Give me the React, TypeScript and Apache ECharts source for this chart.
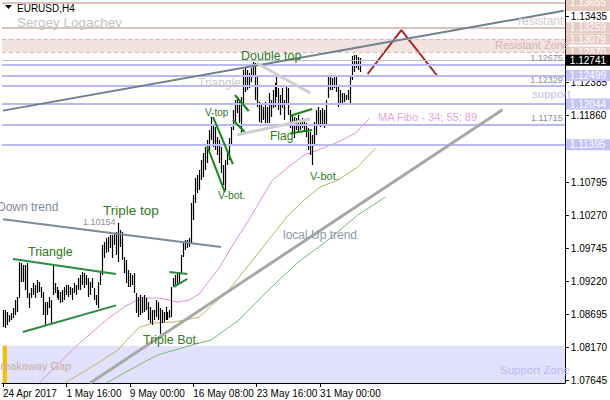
import React, { useEffect, useRef } from "react";
import * as echarts from "echarts";

// ---- price bars (H4, EURUSD) : highs and lows per bar index ----
const barHigh = [
  1.08766, 1.08766, 1.08734, 1.08686, 1.08718, 1.08798, 1.08925, 1.08973, 1.0953, 1.09514,
  1.09483, 1.09483, 1.09514, 1.09037, 1.09117, 1.09196, 1.09164, 1.09245, 1.09212, 1.09132,
  1.09053, 1.08893, 1.08893, 1.08973, 1.08925, 1.09483, 1.09196, 1.09132, 1.09085, 1.09053,
  1.09085, 1.09132, 1.09164, 1.09164, 1.09132, 1.09117, 1.09196, 1.09164, 1.09275, 1.09323,
  1.09371, 1.09355, 1.09323, 1.09275, 1.09212, 1.09275, 1.09117, 1.09005, 1.09212, 1.09371,
  1.09801, 1.09848, 1.09912, 1.09928, 1.0996, 1.0996, 1.09992, 1.10007, 1.10154, 1.10039,
  1.10007, 1.0961, 1.09562, 1.09403, 1.09355, 1.09323, 1.09355, 1.09037, 1.08973, 1.09005,
  1.08973, 1.09005, 1.08959, 1.08893, 1.08814, 1.08766, 1.08766, 1.08925, 1.08893, 1.08798,
  1.08766, 1.08734, 1.08814, 1.08734, 1.08766, 1.09132, 1.09275, 1.09323, 1.09355, 1.09371,
  1.09641, 1.09848, 1.0988, 1.0988, 1.09912, 1.10469, 1.10597, 1.10867, 1.10915, 1.10995,
  1.11154, 1.11265, 1.11361, 1.11473, 1.11631, 1.11838, 1.11711, 1.11679, 1.1152, 1.11473,
  1.11361, 1.11074, 1.11154, 1.11313, 1.11504, 1.11679, 1.1195, 1.12109, 1.12157, 1.12109,
  1.12157, 1.12587, 1.12618, 1.12587, 1.12539, 1.12618, 1.12714, 1.12698, 1.12475, 1.12077,
  1.12029, 1.11998, 1.12077, 1.11998, 1.1222, 1.12109, 1.12268, 1.1238, 1.12475, 1.123,
  1.12189, 1.123, 1.12109, 1.12316, 1.123, 1.1195, 1.1187, 1.11838, 1.11822, 1.1187,
  1.11791, 1.11822, 1.11791, 1.11743, 1.11663, 1.116, 1.11552, 1.11759, 1.1195, 1.11998,
  1.1195, 1.11982, 1.1195, 1.12109, 1.12475, 1.12507, 1.12459, 1.12475, 1.12507, 1.12348,
  1.12268, 1.1222, 1.1222, 1.12189, 1.12268, 1.12507, 1.1281, 1.12825, 1.12825, 1.12794,
  1.12778,
];
const barLow = [
  1.08495, 1.0848, 1.08527, 1.08575, 1.08607, 1.08639, 1.08686, 1.08734, 1.08959, 1.09212,
  1.09212, 1.09085, 1.08959, 1.08798, 1.08959, 1.09005, 1.08959, 1.09037, 1.09053, 1.08959,
  1.08686, 1.08527, 1.08686, 1.08798, 1.08559, 1.09005, 1.09037, 1.08959, 1.08925, 1.08877,
  1.08893, 1.08925, 1.09005, 1.08973, 1.09005, 1.08925, 1.09037, 1.09005, 1.09085, 1.09085,
  1.09164, 1.09117, 1.09164, 1.08973, 1.09005, 1.09117, 1.08925, 1.08845, 1.08798, 1.09164,
  1.09323, 1.09594, 1.09673, 1.09689, 1.09753, 1.09594, 1.09801, 1.09641, 1.0953, 1.09769,
  1.09562, 1.09355, 1.09196, 1.09132, 1.09132, 1.09164, 1.09037, 1.08718, 1.08654, 1.08686,
  1.08718, 1.08734, 1.08766, 1.08607, 1.08559, 1.08527, 1.08607, 1.08654, 1.08607, 1.08384,
  1.08559, 1.08575, 1.08607, 1.08607, 1.08639, 1.08654, 1.09132, 1.09132, 1.09164, 1.09196,
  1.09355, 1.0961, 1.09721, 1.09753, 1.09769, 1.09833, 1.10199, 1.10469, 1.10629, 1.10676,
  1.10835, 1.10883, 1.10995, 1.11106, 1.11265, 1.11473, 1.11361, 1.11313, 1.11233, 1.11106,
  1.10947, 1.10756, 1.10676, 1.11074, 1.11154, 1.11393, 1.11631, 1.11759, 1.11902, 1.11743,
  1.11584, 1.12061, 1.12236, 1.12268, 1.123, 1.12396, 1.12475, 1.12109, 1.11998, 1.11759,
  1.11743, 1.11791, 1.11743, 1.11743, 1.11743, 1.11838, 1.11982, 1.11998, 1.12157, 1.1195,
  1.1187, 1.11982, 1.11791, 1.12029, 1.1187, 1.11663, 1.11584, 1.11504, 1.11631, 1.11584,
  1.11631, 1.11663, 1.116, 1.1152, 1.11313, 1.11233, 1.11074, 1.11393, 1.11552, 1.11711,
  1.11679, 1.11711, 1.11663, 1.11711, 1.12141, 1.12268, 1.12268, 1.123, 1.12236, 1.11998,
  1.12029, 1.12061, 1.12077, 1.12109, 1.12109, 1.12029, 1.12427, 1.12555, 1.12618, 1.12587,
  1.12555,
];

// ---- MA Fibo 34 / 55 / 89 (shifted), read as [bar index, price] ----
const maPink = [
  [18, 1.0760], [29, 1.07938], [36, 1.08161], [48, 1.08495], [54, 1.08654], [62, 1.0883],
  [70, 1.08957], [79, 1.08957], [88, 1.08893], [94, 1.08925], [99, 1.0902], [104, 1.09228],
  [109, 1.09435], [116, 1.09801], [124, 1.10199], [130, 1.10517], [136, 1.10835], [144, 1.11042],
  [152, 1.11233], [159, 1.11313], [168, 1.11424], [178, 1.11584], [185, 1.11822],
];
const maOlive = [
  [31, 1.0760], [48, 1.07922], [58, 1.08129], [62, 1.08272], [69, 1.08495], [76, 1.08559],
  [86, 1.08575], [92, 1.08607], [99, 1.08654], [104, 1.08798], [114, 1.09085], [124, 1.09482],
  [134, 1.0988], [144, 1.10278], [152, 1.10517], [160, 1.10724], [169, 1.10835], [179, 1.11042],
  [188, 1.11345],
];
const maGreen = [
  [52, 1.0760], [62, 1.07779], [78, 1.0805], [92, 1.08177], [99, 1.0824], [105, 1.08288],
  [119, 1.08607], [134, 1.09085], [149, 1.0953], [164, 1.0988], [179, 1.10278], [193, 1.10565],
];

// ---- axes ----
const Y_MIN = 1.07604;
const Y_MAX = 1.13701;
const barSlots = 284;
const yTicks = [1.07645, 1.0817, 1.08695, 1.0922, 1.09745, 1.1027, 1.10795, 1.1186, 1.12385, 1.13435];
const xTickIndex = [0, 32, 64, 96, 128, 160];
const xTickLabels = ["24 Apr 2017", "1 May 16:00", "9 May 00:00", "16 May 08:00", "23 May 16:00", "31 May 00:00"];

// ---- horizontal levels ----
const bidPrice = 1.12741;
const lavAxisLevels = [1.12499, 1.12044, 1.11395];
const lavInnerLevels = [1.12675, 1.12329, 1.11715];
const resistLevels = [1.13655, 1.13259];
const resistZone = [1.1287, 1.13079];
const supportTop = 1.08197;

// ---- trend lines [index, price] ----
const channelLine = [[0, 1.1194], [283, 1.1353]];
const localUpTrend = [[44, 1.07604], [252, 1.11955]];
const downTrend = [[0, 1.10211], [110, 1.09769]];
const triangleUpper = [[5, 1.09578], [57, 1.09339]];
const triangleLower = [[10, 1.08416], [57, 1.0884]];
const pennantUpper = [[84, 1.09371], [93, 1.09339]];
const pennantLower = [[86, 1.09132], [93, 1.0926]];
const vLines = [
  [[103, 1.11377], [112, 1.10644]],
  [[106, 1.11838], [116, 1.1109]],
  [[117, 1.12189], [124, 1.11934]],
  [[116, 1.11791], [122, 1.116]],
];
const grayTriUpper = [[128, 1.12698], [155, 1.1222]];
const grayTriLower = [[118, 1.11552], [155, 1.11806]];
const flagUpper = [[145, 1.11859], [156, 1.11966]];
const flagLower = [[145, 1.11579], [156, 1.11631]];
const redChevron = [[184, 1.12523], [201, 1.13223], [219, 1.12499]];

const FONT = '"Liberation Sans", Arial, sans-serif';
const GREEN_TXT = "#2f7a22";
const LAV = "#b9b9f3";
const PINK_LINE = "#dcc2ba";

const seg = (pts: number[][], color: string, width: number) => [
  { coord: pts[0], lineStyle: { color, width, type: "solid" } },
  { coord: pts[1] },
];

const txt = (text: string, x: number, y: number, fill: string, size: number) => ({
  type: "text",
  x,
  y,
  silent: true,
  z: 100,
  style: { text, fill, font: `${size}px ${FONT}`, verticalAlign: "middle", align: "left" },
});

const boxLabel = (text: string, bg: string, padTop = 1) => ({
  show: true,
  position: "end",
  formatter: text,
  backgroundColor: bg,
  color: "#fff",
  fontSize: 10,
  fontFamily: FONT,
  padding: [padTop, 5, 0, 4],
  distance: 1,
});

const innerLabel = (text: string) => ({
  show: true,
  position: "insideEndTop",
  formatter: text,
  color: "#8d8d9d",
  fontSize: 9,
  fontFamily: FONT,
  distance: 2,
});

export default function App() {
  const ref = useRef<HTMLDivElement>(null);

  useEffect(() => {
    if (!ref.current) return;
    const chart = echarts.init(ref.current, undefined, { renderer: "svg" });
    const categories = Array.from({ length: barSlots }, (_, i) => String(i));
    const bars = barHigh.map((h, i) => [i, barLow[i], h]);

    const levelLines: any[] = [];
    resistLevels.forEach((v, k) =>
      levelLines.push({
        yAxis: v,
        lineStyle: { color: PINK_LINE, width: 2, type: "solid" },
        label: boxLabel(v.toFixed(5), "#e6cbc3", k === 0 ? 6 : 1),
      })
    );
    resistZone.forEach((v) =>
      levelLines.push({ yAxis: v, lineStyle: { color: "#d9b9b1", width: 1, type: [4, 3] }, label: boxLabel(v.toFixed(5), "#e6cbc3") })
    );
    lavAxisLevels.forEach((v) =>
      levelLines.push({ yAxis: v, lineStyle: { color: LAV, width: 2, type: "solid" }, label: boxLabel(v.toFixed(5), "#c2c2f6") })
    );
    lavInnerLevels.forEach((v) =>
      levelLines.push({ yAxis: v, lineStyle: { color: LAV, width: 2, type: "solid" }, label: innerLabel(v.toFixed(5)) })
    );
    levelLines.push({ yAxis: supportTop, lineStyle: { color: "#d8d8f8", width: 1, opacity: 0 }, label: innerLabel(supportTop.toFixed(5)) });
    levelLines.push({ yAxis: bidPrice, lineStyle: { color: "#c0c0c0", width: 1, type: "solid" }, label: boxLabel(bidPrice.toFixed(5), "#000") });

    const trendLines: any[] = [
      seg(channelLine, "#6f7f8f", 2),
      seg(localUpTrend, "#a8a8a8", 3),
      seg(downTrend, "#7c8a98", 2),
      seg(triangleUpper, "#2e8b45", 2),
      seg(triangleLower, "#2e8b45", 2),
      seg(pennantUpper, "#2e8b45", 2),
      seg(pennantLower, "#2e8b45", 2),
      ...vLines.map((l) => seg(l, "#138a13", 2)),
      seg(grayTriUpper, "#cfcfcf", 3),
      seg(grayTriLower, "#cfcfcf", 3),
      seg(flagUpper, "#138a13", 2),
      seg(flagLower, "#138a13", 2),
    ];

    const option: any = {
      animation: false,
      backgroundColor: "#fff",
      grid: { left: 1, right: 41, top: 0, bottom: 17, containLabel: false },
      xAxis: {
        type: "category",
        data: categories,
        boundaryGap: true,
        axisLine: { show: true, lineStyle: { color: "#000", width: 1 } },
        axisTick: {
          show: true,
          alignWithLabel: true,
          length: 4,
          interval: (i: number) => xTickIndex.includes(i),
          lineStyle: { color: "#000" },
        },
        axisLabel: {
          interval: (i: number) => xTickIndex.includes(i),
          formatter: (_v: string, i: number) => xTickLabels[xTickIndex.indexOf(i)] ?? "",
          align: "left",
          color: "#000",
          fontSize: 10,
          fontFamily: FONT,
          margin: 5,
        },
        splitLine: { show: false },
      },
      yAxis: {
        type: "value",
        position: "right",
        min: Y_MIN,
        max: Y_MAX,
        scale: true,
        splitLine: { show: false },
        axisLine: { show: true, lineStyle: { color: "#000", width: 1 } },
        axisTick: { show: true, length: 4, customValues: yTicks, lineStyle: { color: "#000" } },
        axisLabel: {
          customValues: yTicks,
          formatter: (v: number) => v.toFixed(5),
          color: "#000",
          fontSize: 10,
          fontFamily: FONT,
          margin: 6,
        },
      },
      series: [
        {
          type: "line",
          name: "zones",
          data: [],
          z: 1,
          silent: true,
          markArea: {
            silent: true,
            precision: 5,
            label: { show: false },
            data: [
              [{ yAxis: resistZone[0], itemStyle: { color: "#f1e3df" } }, { yAxis: resistZone[1] }],
              [{ yAxis: Y_MIN, itemStyle: { color: "#e1e1fb" } }, { yAxis: supportTop }],
              [{ xAxis: 0, yAxis: Y_MIN, itemStyle: { color: "#f2c200" } }, { xAxis: 2, yAxis: supportTop }],
            ],
          },
          markLine: {
            silent: true,
            precision: 5,
            symbol: ["none", "none"],
            label: { show: false },
            data: levelLines,
          },
        },
        {
          type: "line",
          name: "MA34",
          data: maPink,
          z: 2,
          showSymbol: false,
          silent: true,
          lineStyle: { color: "#e08ee0", width: 1 },
        },
        {
          type: "line",
          name: "MA55",
          data: maOlive,
          z: 2,
          showSymbol: false,
          silent: true,
          lineStyle: { color: "#c2b064", width: 1 },
        },
        {
          type: "line",
          name: "MA89",
          data: maGreen,
          z: 2,
          showSymbol: false,
          silent: true,
          lineStyle: { color: "#78b878", width: 1 },
        },
        {
          type: "custom",
          name: "bars",
          z: 3,
          silent: true,
          data: bars,
          encode: { x: 0, y: [1, 2] },
          renderItem: (_p: any, api: any) => {
            const lo = api.coord([api.value(0), api.value(1)]);
            const hi = api.coord([api.value(0), api.value(2)]);
            const x = Math.round(lo[0]) + 0.5;
            return {
              type: "line",
              shape: { x1: x, y1: lo[1], x2: x, y2: hi[1] },
              style: { stroke: "#000", lineWidth: 1.2 },
            };
          },
        },
        {
          type: "line",
          name: "trend",
          data: [],
          z: 4,
          silent: true,
          markLine: {
            silent: true,
            precision: 5,
            symbol: ["none", "none"],
            label: { show: false },
            data: trendLines,
          },
        },
        {
          type: "line",
          name: "target",
          data: redChevron,
          z: 4,
          showSymbol: false,
          silent: true,
          lineStyle: { color: "#a3262a", width: 2 },
        },
      ],
      graphic: [
        { type: "polygon", silent: true, shape: { points: [[5, 5], [12, 5], [8.5, 9]] }, style: { fill: "#000" } },
        txt("EURUSD,H4", 17, 8, "#000", 10),
        txt("Sergey Logachev", 17, 22, "#c4c4c4", 13.5),
        txt("resistant", 518, 21, "#d8c8c6", 12),
        txt("Resistant Zone", 495, 45, "#d6b6ac", 11),
        txt("support", 532, 94, "#c2c2f4", 11.5),
        txt("MA Fibo - 34; 55; 89", 378, 117, "#e4a6e4", 11),
        txt("Double top", 241, 56, GREEN_TXT, 12.5),
        txt("Triangle", 198, 83, "#cacaca", 12),
        txt("V-top", 205, 112, GREEN_TXT, 10),
        txt("V-bot.", 218, 195, GREEN_TXT, 10.5),
        txt("Flag", 270, 136, GREEN_TXT, 12),
        txt("V-bot.", 310, 176, GREEN_TXT, 11),
        txt("local Up trend", 283, 235, "#8c9aaa", 12),
        txt("Down trend", -3, 207, "#7f8d9b", 12),
        txt("Triple top", 103, 210, GREEN_TXT, 13.5),
        txt("1.10154", 83, 222, "#8d8d9d", 9),
        txt("Triangle", 28, 252, GREEN_TXT, 12.5),
        txt("Triple Bot.", 143, 340, GREEN_TXT, 12.5),
        txt("Support Zone", 500, 370, "#babaf4", 11.5),
        txt("Breakaway Gap", -7, 366, "#caaca4", 11),
      ],
    };

    chart.setOption(option);
    return () => chart.dispose();
  }, []);

  return (
    <div
      ref={ref}
      style={{ position: "fixed", left: 0, top: 0, width: 610, height: 400, background: "#fff" }}
    />
  );
}
